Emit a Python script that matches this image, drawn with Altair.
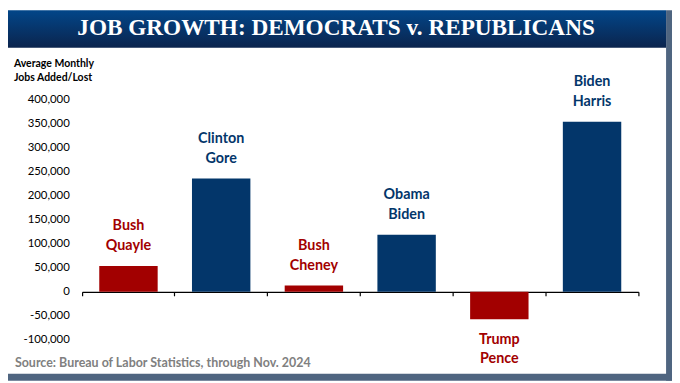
import altair as alt
import pandas as pd

# ---- data ----
admins = ["Bush Quayle", "Clinton Gore", "Bush Cheney", "Obama Biden", "Trump Pence", "Biden Harris"]
line1 = ["Bush", "Clinton", "Bush", "Obama", "Trump", "Biden"]
line2 = ["Quayle", "Gore", "Cheney", "Biden", "Pence", "Harris"]
party = ["R", "D", "R", "D", "R", "D"]
jobs = [54000, 236000, 13000, 119000, -57000, 354000]
y_ticks = [-100000, -50000, 0, 50000, 100000, 150000, 200000, 250000, 300000, 350000, 400000]

TITLE = "JOB GROWTH: DEMOCRATS v. REPUBLICANS"
YTITLE = ["Average Monthly", "Jobs Added/Lost"]
SOURCE = "Source: Bureau of Labor Statistics, through Nov. 2024"

RED = "#a20000"
BLUE = "#03366a"
FRAME = "#4f6580"
FONT = "Lato"

df = pd.DataFrame({"admin": admins, "l1": line1, "l2": line2, "party": party, "value": jobs})
one = pd.DataFrame({"k": [0]})

W, H = 563, 243
PL, PT, PR, PB = 75, 90.6, 34, 41.4

xscale = alt.Scale(domain=admins, paddingInner=0, paddingOuter=0)
xenc = alt.X("admin:N", sort=admins, scale=xscale,
             axis=alt.Axis(labels=False, title=None, domainColor="black", domainWidth=1.2,
                           tickColor="black", tickSize=4, tickWidth=1.2, bandPosition=1,
                           tickExtra=True, offset=-48.6, grid=False))
yaxis = alt.Axis(values=y_ticks, format=",.0f", labelOverlap=False, tickCount=11,
                 labelExpr="replace(datum.label, '\u2212', '-')",
                 domain=False, ticks=False, tickSize=0, labelPadding=13,
                 labelFont=FONT, labelFontSize=11.5, labelColor="black",
                 title=None, grid=False)
yscale = alt.Scale(domain=[-100000, 400000], nice=False, zero=False)
yenc = alt.Y("value:Q", scale=yscale, axis=yaxis)
cenc = alt.Color("party:N", scale=alt.Scale(domain=["R", "D"], range=[RED, BLUE]), legend=None)

base = alt.Chart(df)
bars = base.mark_bar(width=alt.RelativeBandSize(0.63)).encode(x=xenc, y=yenc, color=cenc)

txt = dict(font=FONT, fontWeight="bold", fontSize=14.5, baseline="middle", align="center")
pos = base.transform_filter("datum.value >= 0")
neg = base.transform_filter("datum.value < 0")
p1 = pos.mark_text(dy=-40, **txt).encode(x=xenc, y=yenc, text="l1:N", color=cenc)
p2 = pos.mark_text(dy=-20, **txt).encode(x=xenc, y=yenc, text="l2:N", color=cenc)
n1 = neg.mark_text(dy=21, **txt).encode(x=xenc, y=yenc, text="l1:N", color=cenc)
n2 = neg.mark_text(dy=40, **txt).encode(x=xenc, y=yenc, text="l2:N", color=cenc)

oc = alt.Chart(one)
grad = alt.Gradient(gradient="linear",
                    stops=[alt.GradientStop(color="#024689", offset=0),
                           alt.GradientStop(color="#0b244d", offset=1)],
                    x1=0, x2=0, y1=0, y2=1)
title_bar = oc.mark_rect(color=grad).encode(
    x=alt.value(-PL), x2=alt.value(666 - PL), y=alt.value(-PT), y2=alt.value(38 - PT))
title_txt = oc.mark_text(text=TITLE, font="Liberation Serif", fontWeight="bold", fontSize=23.5,
                         color="white", align="center", baseline="middle").encode(
    x=alt.value(332 - PL), y=alt.value(18 - PT))
frame_r = oc.mark_rect(color=FRAME).encode(
    x=alt.value(666 - PL), x2=alt.value(672 - PL), y=alt.value(-PT), y2=alt.value(375 - PT))
frame_b = oc.mark_rect(color=FRAME).encode(
    x=alt.value(-PL), x2=alt.value(672 - PL), y=alt.value(368 - PT), y2=alt.value(375 - PT))
yt1 = oc.mark_text(text=YTITLE[0], font=FONT, fontWeight="bold", fontSize=10.6, color="black",
                   align="left", baseline="middle").encode(x=alt.value(6 - PL), y=alt.value(54 - PT))
yt2 = oc.mark_text(text=YTITLE[1], font=FONT, fontWeight="bold", fontSize=10.6, color="black",
                   align="left", baseline="middle").encode(x=alt.value(6 - PL), y=alt.value(68.5 - PT))
src = oc.mark_text(text=SOURCE, font=FONT, fontWeight="bold", fontSize=12.6, color="#808080",
                   align="left", baseline="middle").encode(x=alt.value(7 - PL), y=alt.value(357 - PT))

chart = alt.layer(bars, p1, p2, n1, n2, title_bar, title_txt, frame_r, frame_b, yt1, yt2, src).properties(
    width=W, height=H,
    padding={"left": PL, "top": PT, "right": PR, "bottom": PB},
    autosize=alt.AutoSizeParams(type="none"),
    background="white",
).configure_view(strokeOpacity=0)

chart.save("out.html", embed_options={"renderer": "svg", "actions": False})
